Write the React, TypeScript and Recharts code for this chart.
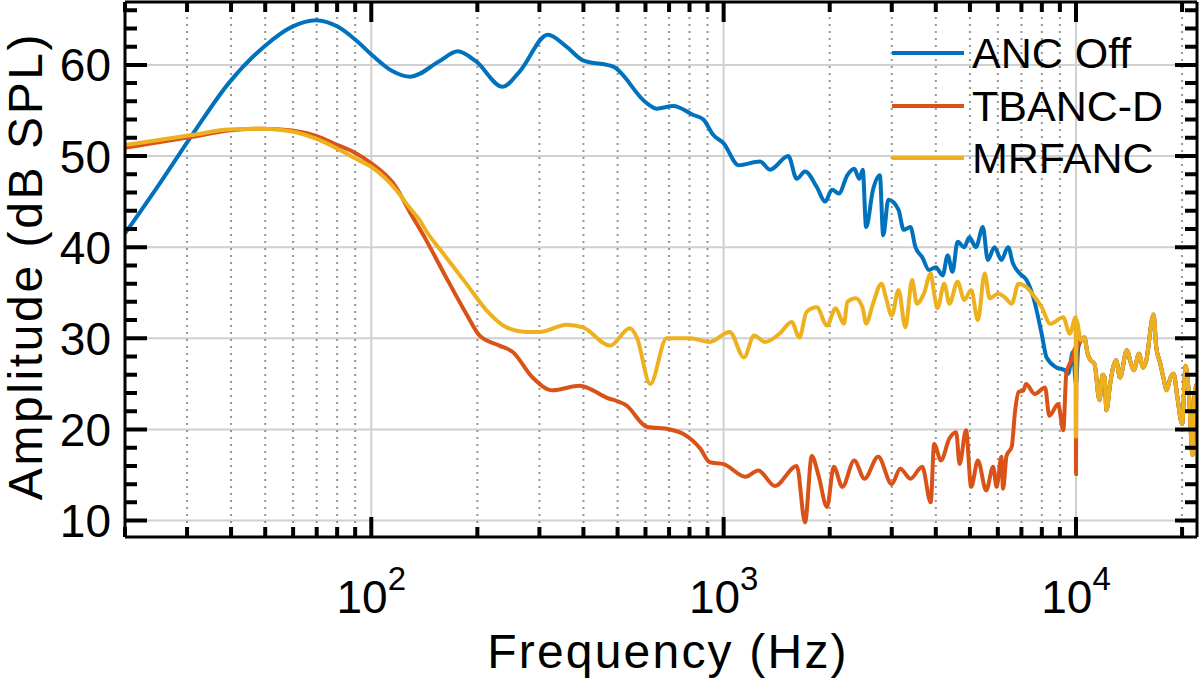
import React from "react";
import { LineChart, Line, XAxis, YAxis, Legend, Label, ReferenceLine } from "recharts";

const FONT = '"Liberation Sans", Arial, Helvetica, sans-serif';

// axis ranges and ticks
const xDomain = [20, 22050];
const yDomain = [8.2, 66.9];
const decades = [100, 1000, 10000];
const minorFreqs = [
  20, 30, 40, 50, 60, 70, 80, 90,
  200, 300, 400, 500, 600, 700, 800, 900,
  2000, 3000, 4000, 5000, 6000, 7000, 8000, 9000,
  20000,
];
const xTicks = [...minorFreqs, ...decades].sort((a, b) => a - b);
const yMajor = [10, 20, 30, 40, 50, 60];
const yTicks = [
  10, 12, 14, 16, 18, 20, 22, 24, 26, 28, 30, 32, 34, 36, 38,
  40, 42, 44, 46, 48, 50, 52, 54, 56, 58, 60, 62, 64, 66,
];
const seriesOrder = ["ANC Off", "TBANC-D", "MRFANC"];

// [frequency Hz, amplitude dB SPL]
const ancOff = [
  [20, 41.5], [25, 46.9], [31, 52.3], [39.4, 58.0], [49.6, 62.0], [59.7, 64.2],
  [69.7, 64.9], [80.2, 64.2], [90.5, 62.7], [101, 61.0], [115, 59.3], [129, 58.7],
  [156, 60.4], [176, 61.5], [198, 60.4], [236, 57.6], [264, 59.3], [317, 63.3],
  [358, 62.0], [399, 60.5], [486, 59.8], [605, 55.8], [646, 55.2], [720, 55.5],
  [820, 54.5], [876, 54.0], [935, 52.3], [1000, 51.4], [1102, 49.0], [1268, 49.4],
  [1354, 48.5], [1525, 50.0], [1613, 47.5], [1702, 48.3], [1838, 46.6], [1941, 45.0],
  [2030, 46.3], [2124, 45.9], [2245, 47.9], [2348, 48.6], [2427, 47.5], [2482, 48.5],
  [2537, 42.2], [2654, 46.3], [2775, 47.9], [2837, 41.3], [2934, 45.2], [3136, 44.1],
  [3242, 41.9], [3389, 42.2], [3502, 40.0], [3661, 38.9], [3827, 37.5], [4000, 37.8],
  [4183, 36.9], [4324, 39.1], [4462, 37.3], [4612, 40.6], [4820, 40.0], [4980, 41.1],
  [5200, 40.0], [5440, 42.2], [5620, 38.6], [5870, 40.0], [6140, 38.6], [6413, 40.0],
  [6626, 38.2], [6925, 37.1], [7238, 36.4], [7565, 34.5], [7990, 30.5], [8250, 27.9],
  [8800, 26.8], [9290, 26.5], [9500, 26.1], [9800, 28.5], [10000, 25.0], [10150, 29.0],
];

const tbancD = [
  [20, 50.9], [31, 52.1], [39.4, 52.8], [49.6, 53.0], [59.7, 52.8], [69.7, 52.2],
  [80.2, 51.2], [88.5, 50.5], [100, 49.2], [117.5, 46.6], [128, 44.0], [143, 40.8],
  [163, 36.7], [186, 32.7], [203, 30.3], [231, 29.2], [252, 28.5], [287, 25.7],
  [327, 24.3], [390, 24.8], [465, 23.5], [531, 22.6], [605, 20.3], [704, 20.0],
  [769, 19.5], [858, 17.9], [913, 16.4], [1000, 16.2], [1153, 14.8], [1254, 15.5],
  [1397, 13.8], [1613, 16.0], [1702, 9.8], [1779, 17.1], [1860, 14.9], [1965, 11.5],
  [2054, 15.9], [2172, 13.7], [2348, 16.6], [2510, 14.6], [2745, 17.0], [3000, 14.0],
  [3170, 15.7], [3389, 14.6], [3661, 15.9], [3870, 12.0], [3957, 18.4], [4137, 16.6],
  [4372, 19.0], [4570, 19.7], [4672, 16.2], [4874, 19.9], [5040, 13.7], [5267, 16.6],
  [5560, 13.3], [5820, 15.9], [5950, 13.7], [6140, 17.0], [6210, 13.5], [6350, 17.1],
  [6570, 18.1], [6720, 22.1], [6870, 24.1], [7100, 24.3], [7210, 25.0], [7640, 23.9],
  [8170, 24.6], [8400, 21.5], [8900, 22.8], [9200, 19.9], [9390, 26.2], [9710, 27.6],
  [9980, 29.0], [10000, 15.1], [10030, 28.7],
];

const mrfanc = [
  [20, 51.2], [31, 52.3], [39.4, 52.9], [49.6, 53.0], [59.7, 52.7], [69.7, 51.9],
  [80.2, 50.8], [90.5, 49.7], [101, 48.7], [117.5, 46.3], [128, 44.4], [137, 43.0],
  [143, 41.8], [160, 39.3], [186, 36.0], [212, 33.1], [242, 31.2], [275, 30.7],
  [300, 30.7], [358, 31.5], [399, 31.2], [476, 29.2], [542, 31.1], [567, 30.1],
  [619, 25.0], [689, 30.0], [802, 30.0], [913, 29.6], [1040, 30.7], [1142, 27.9],
  [1220, 30.3], [1310, 29.6], [1440, 30.5], [1560, 31.8], [1640, 30.1], [1720, 32.9],
  [1838, 33.4], [1965, 31.4], [2078, 33.3], [2195, 31.6], [2245, 34.0], [2372, 34.4],
  [2482, 33.3], [2537, 31.6], [2654, 33.8], [2805, 36.0], [2900, 34.2], [3000, 32.5],
  [3136, 35.3], [3280, 31.2], [3425, 36.4], [3535, 33.8], [3700, 34.9], [3870, 37.1],
  [3957, 34.9], [4045, 33.3], [4228, 36.0], [4372, 33.8], [4612, 36.2], [4820, 34.2],
  [5040, 35.3], [5267, 32.0], [5505, 37.1], [5690, 34.4], [6010, 34.9], [6280, 34.5],
  [6570, 33.8], [6870, 36.0], [7240, 35.6], [7640, 34.5], [7990, 33.4], [8450, 31.6],
  [9200, 32.3], [9600, 30.5], [9980, 32.3], [10000, 19.2], [10030, 32.0],
];

// above ~10 kHz the three curves lie on top of each other
const highBand = [
  [10330, 29.8], [10560, 30.1], [10790, 28.3], [11000, 27.6], [11280, 27.2],
  [11660, 23.2], [11900, 26.0], [12060, 25.7], [12200, 22.1], [12500, 25.0],
  [12740, 26.8], [13000, 27.6], [13330, 25.7], [13940, 28.7], [14300, 27.3],
  [14580, 26.5], [15100, 28.3], [15500, 26.8], [15790, 27.4], [16600, 32.6],
  [16900, 29.0], [17300, 27.4], [17700, 25.7], [18090, 24.3], [18500, 25.6],
  [18920, 26.1], [19400, 23.5], [20010, 20.6], [20470, 27.0], [20900, 24.0],
  [21420, 17.2], [21700, 24.0], [22050, 25.0],
];

const toPoints = (rows: number[][]) => rows.map(([f, db]) => ({ f, db }));

// plot box is 1072 x 535 px; the inward ticks are the two ends of a dashed full-length line
const PLOT_W = 1072;
const PLOT_H = 535;
const xLen = (f: number) => (decades.includes(f) ? 20 : 10);
const yLen = (v: number) => (yMajor.includes(v) ? 22 : 12);
const xTickDash = (f: number) => `${xLen(f)} ${PLOT_H - 2 * xLen(f)} ${xLen(f)}`;
const yTickDash = (v: number) => `${yLen(v)} ${PLOT_W - 2 * yLen(v)} ${yLen(v)}`;
// solid major grid leaves the tick ends free
const xGridDash = `0 20 ${PLOT_H - 40} 20`;
const yGridDash = `0 22 ${PLOT_W - 44} 22`;

const BottomLabel = ({ x, y, payload }: any) =>
  decades.includes(payload.value) ? (
    <text x={x} y={Number(y) + 76} textAnchor="middle" fontSize={46} fontFamily={FONT} fill="#000">
      10
      <tspan fontSize={33} dy={-23}>
        {Math.round(Math.log10(payload.value))}
      </tspan>
    </text>
  ) : (
    <g />
  );

const LeftLabel = ({ x, y, payload }: any) =>
  yMajor.includes(payload.value) ? (
    <text x={Number(x) - 14} y={y} dy="0.36em" textAnchor="end" fontSize={46} fontFamily={FONT} fill="#000">
      {payload.value}
    </text>
  ) : (
    <g />
  );

const renderLegend = ({ payload }: any) => {
  const items = [...(payload || [])]
    .filter((e: any) => seriesOrder.includes(e.value))
    .sort((a: any, b: any) => seriesOrder.indexOf(a.value) - seriesOrder.indexOf(b.value));
  return (
    <div style={{ fontFamily: FONT }}>
      {items.map((e: any) => (
        <div key={e.value} style={{ display: "flex", alignItems: "center", height: 52.5 }}>
          <svg width={72} height={6} style={{ display: "block" }}>
            <line x1={0} x2={72} y1={3} y2={3} stroke={e.color} strokeWidth={4} />
          </svg>
          <span style={{ marginLeft: 8, fontSize: 43, lineHeight: "52.5px", color: "#000" }}>
            {e.value}
          </span>
        </div>
      ))}
    </div>
  );
};

const axisLine = { stroke: "#000", strokeWidth: 3 };

export default function App() {
  return (
    <div style={{ position: "absolute", left: 0, top: 0, width: 1200, height: 685, background: "#fff" }}>
      <LineChart width={1200} height={685} margin={{ top: 2, right: 3, left: 0, bottom: 0 }}>
        <XAxis
          dataKey="f"
          type="number"
          scale="log"
          domain={xDomain}
          allowDataOverflow
          ticks={decades}
          interval={0}
          height={148}
          tickSize={0}
          tickMargin={0}
          tickLine={false}
          axisLine={axisLine}
          tick={<BottomLabel />}
        >
          <Label
            content={() => (
              <text x={668} y={668} textAnchor="middle" fontSize={48} letterSpacing={2.2} fontFamily={FONT} fill="#000">
                Frequency (Hz)
              </text>
            )}
          />
        </XAxis>
        <YAxis
          type="number"
          domain={yDomain}
          allowDataOverflow
          ticks={yMajor}
          interval={0}
          width={125}
          tickSize={0}
          tickMargin={0}
          tickLine={false}
          axisLine={axisLine}
          tick={<LeftLabel />}
        >
          <Label
            content={() => (
              <text
                transform="translate(42,266) rotate(-90)"
                textAnchor="middle"
                fontSize={48}
                letterSpacing={2.6}
                fontFamily={FONT}
                fill="#000"
              >
                Amplitude (dB SPL)
              </text>
            )}
          />
        </YAxis>

        {/* grid */}
        {yMajor.map((v) => (
          <ReferenceLine
            key={`gy${v}`}
            y={v}
            stroke="#d0d0d0"
            strokeWidth={2}
            strokeDasharray={yGridDash}
            ifOverflow="visible"
          />
        ))}
        {decades.map((f) => (
          <ReferenceLine
            key={`gx${f}`}
            x={f}
            stroke="#d0d0d0"
            strokeWidth={2}
            strokeDasharray={xGridDash}
            ifOverflow="visible"
          />
        ))}
        {minorFreqs.map((f) => (
          <ReferenceLine
            key={`gm${f}`}
            x={f}
            stroke="#969696"
            strokeWidth={2}
            strokeDasharray="2 5"
            ifOverflow="visible"
          />
        ))}

        <Line
          data={toPoints([...ancOff, ...highBand])}
          dataKey="db"
          name="ANC Off"
          type="monotone"
          stroke="#0072BD"
          strokeWidth={4}
          dot={false}
          activeDot={false}
          isAnimationActive={false}
        />
        <Line
          data={toPoints([...tbancD, ...highBand])}
          dataKey="db"
          name="TBANC-D"
          type="monotone"
          stroke="#D95319"
          strokeWidth={4}
          dot={false}
          activeDot={false}
          isAnimationActive={false}
        />
        <Line
          data={toPoints([...mrfanc, ...highBand])}
          dataKey="db"
          name="MRFANC"
          type="monotone"
          stroke="#EDB120"
          strokeWidth={4}
          dot={false}
          activeDot={false}
          isAnimationActive={false}
        />

        {/* inward ticks on all four sides */}
        {xTicks.map((f) => (
          <ReferenceLine
            key={`tx${f}`}
            x={f}
            stroke="#000"
            strokeWidth={4}
            strokeDasharray={xTickDash(f)}
            ifOverflow="visible"
          />
        ))}
        {yTicks.map((v) => (
          <ReferenceLine
            key={`ty${v}`}
            y={v}
            stroke="#000"
            strokeWidth={4}
            strokeDasharray={yTickDash(v)}
            ifOverflow="visible"
          />
        ))}

        {/* frame top / right */}
        <ReferenceLine y={yDomain[1]} stroke="#000" strokeWidth={3} ifOverflow="visible" />
        <ReferenceLine x={xDomain[1]} stroke="#000" strokeWidth={3} ifOverflow="visible" />

        <Legend
          layout="vertical"
          align="center"
          verticalAlign="middle"
          content={renderLegend}
          wrapperStyle={{ left: 892, top: 27, width: 300, height: 160 }}
        />
      </LineChart>
    </div>
  );
}
